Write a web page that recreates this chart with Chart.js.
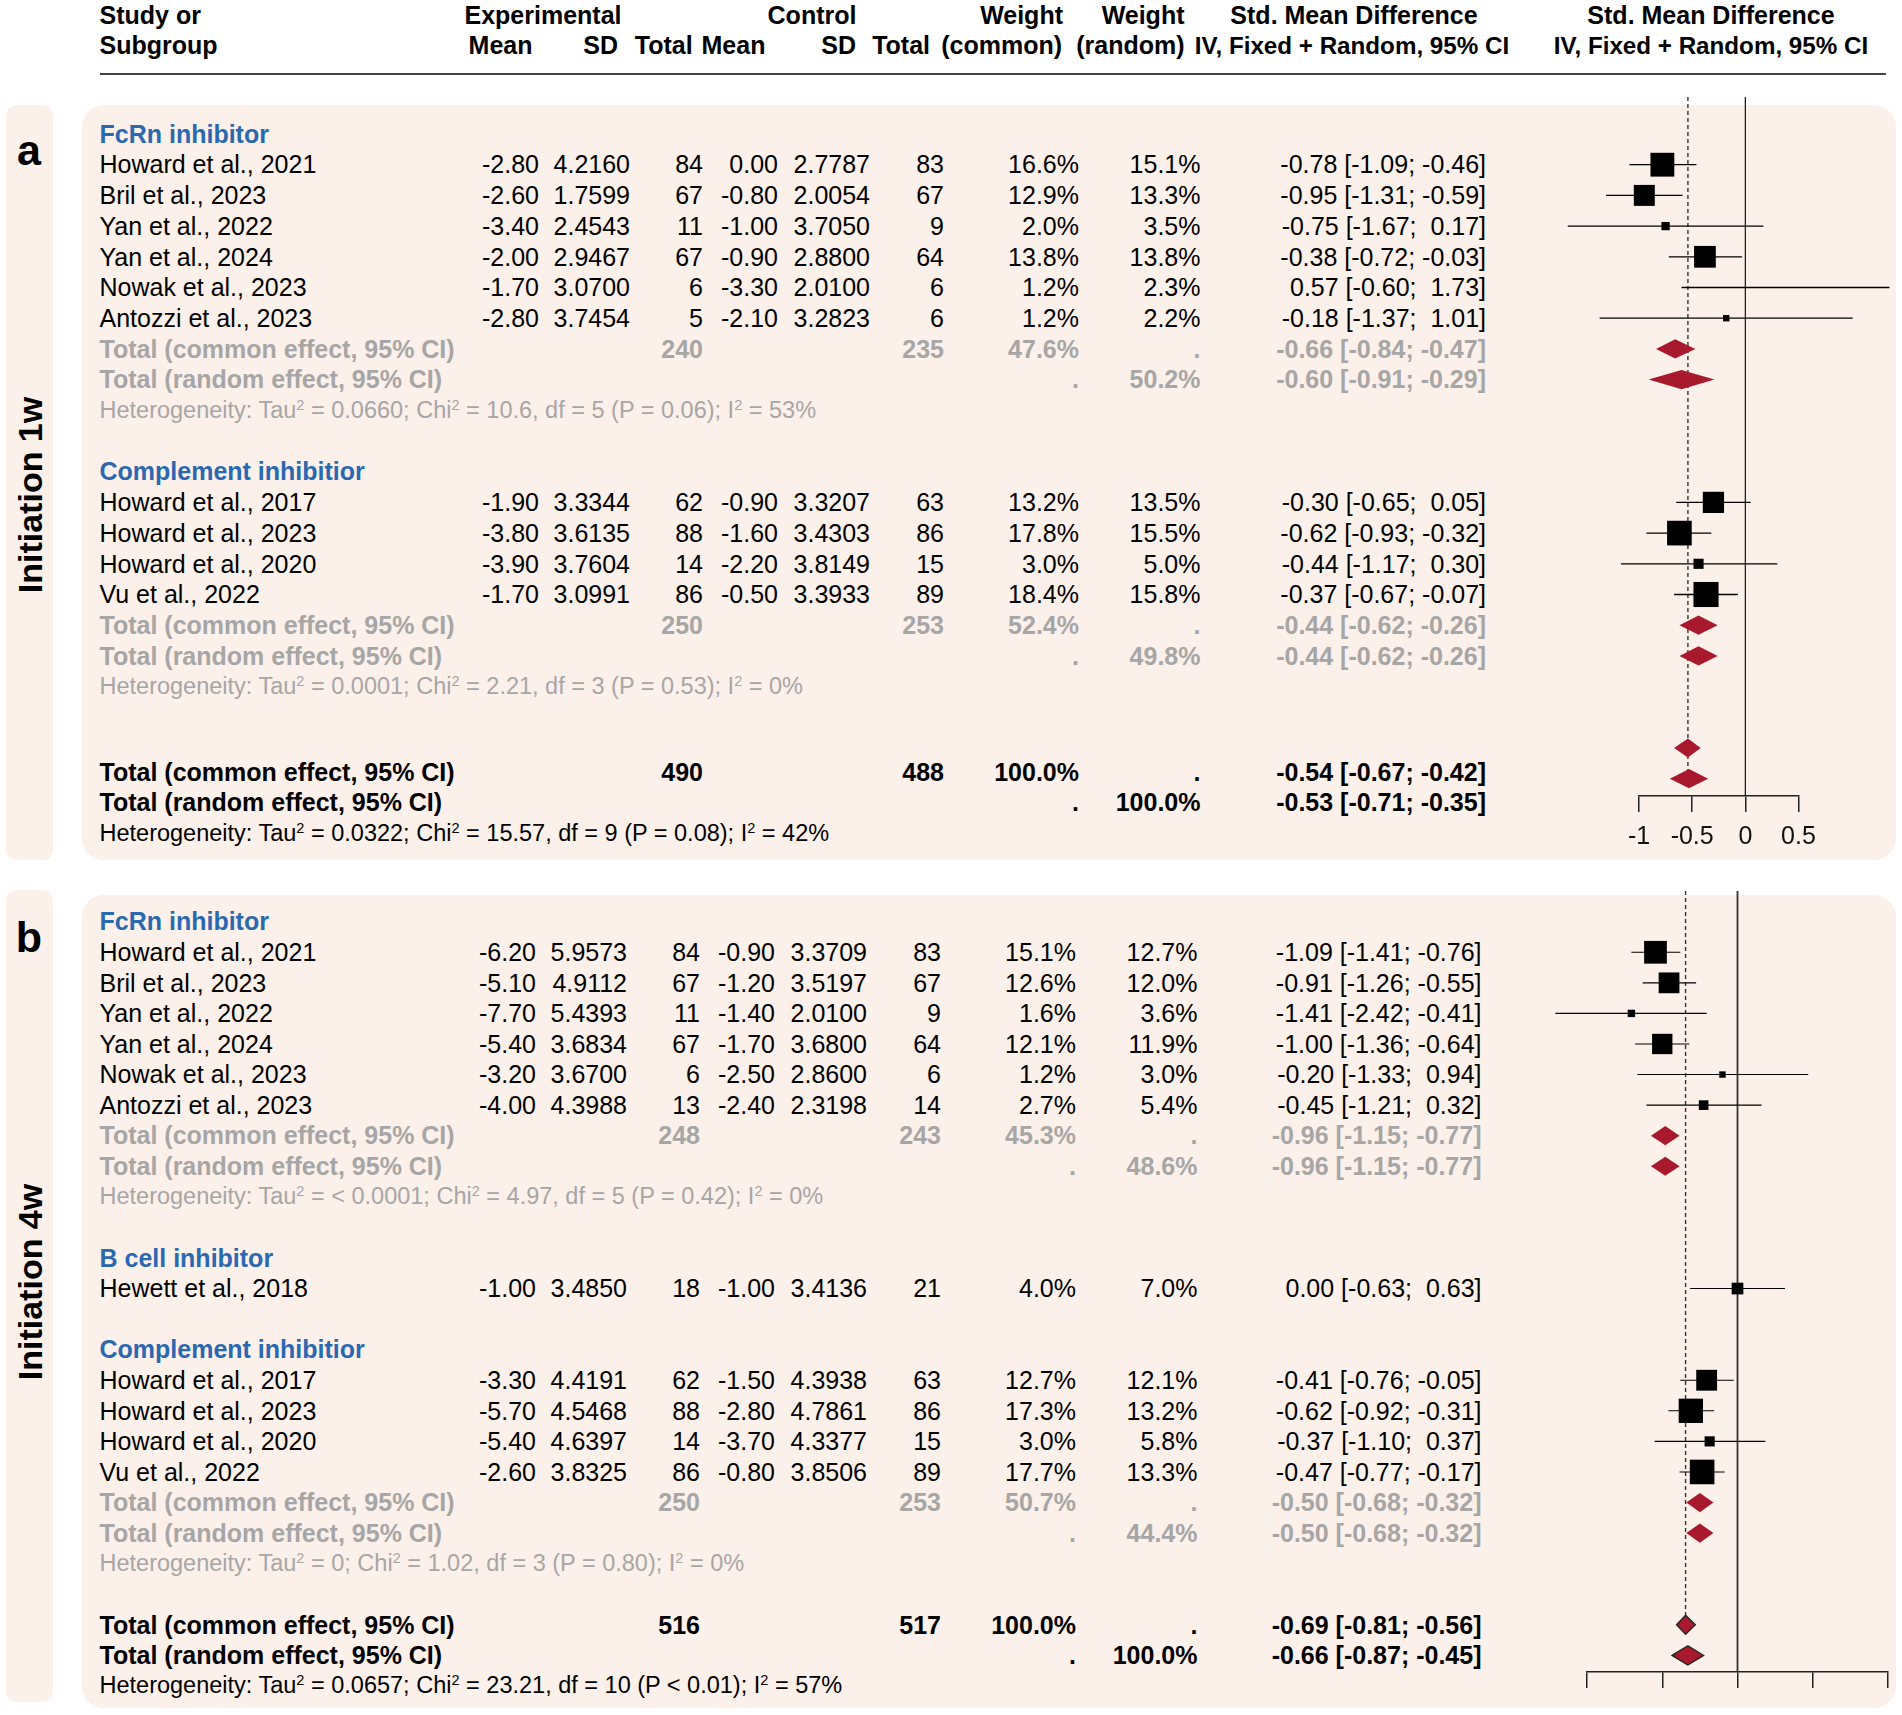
<!DOCTYPE html>
<html>
<head>
<meta charset="utf-8">
<title>Forest plot</title>
<script src="https://cdn.jsdelivr.net/npm/chart.js@4.4.1/dist/chart.umd.min.js"></script>
<style>
  html, body { margin: 0; padding: 0; background: #fff; }
  #page { position: relative; width: 1902px; height: 1715px; overflow: hidden;
          font-family: "Liberation Sans", Arial, Helvetica, sans-serif; color: #000; }
  .t { position: absolute; white-space: pre; }
  .sup { font-size: 0.62em; position: relative; top: -0.55em; }
  .box { position: absolute; background: #fcf0ea; }
  canvas { position: absolute; }
</style>
</head>
<body>
<div id="page"></div>
<script>
// ---- panel a: initiation 1w ----
const aGroups = ['FcRn inhibitor', 'Complement inhibitior'];
const aStudies = ['Howard et al., 2021', 'Bril et al., 2023', 'Yan et al., 2022', 'Yan et al., 2024', 'Nowak et al., 2023', 'Antozzi et al., 2023',
  'Howard et al., 2017', 'Howard et al., 2023', 'Howard et al., 2020', 'Vu et al., 2022'];
const aGroupOf = [0, 0, 0, 0, 0, 0, 1, 1, 1, 1];
const aExpMean = [-2.80, -2.60, -3.40, -2.00, -1.70, -2.80, -1.90, -3.80, -3.90, -1.70];
const aExpSD = [4.2160, 1.7599, 2.4543, 2.9467, 3.0700, 3.7454, 3.3344, 3.6135, 3.7604, 3.0991];
const aExpN = [84, 67, 11, 67, 6, 5, 62, 88, 14, 86];
const aCtlMean = [0.00, -0.80, -1.00, -0.90, -3.30, -2.10, -0.90, -1.60, -2.20, -0.50];
const aCtlSD = [2.7787, 2.0054, 3.7050, 2.8800, 2.0100, 3.2823, 3.3207, 3.4303, 3.8149, 3.3933];
const aCtlN = [83, 67, 9, 64, 6, 6, 63, 86, 15, 89];
const aWCommon = [16.6, 12.9, 2.0, 13.8, 1.2, 1.2, 13.2, 17.8, 3.0, 18.4];
const aWRandom = [15.1, 13.3, 3.5, 13.8, 2.3, 2.2, 13.5, 15.5, 5.0, 15.8];
const aSMD = [-0.78, -0.95, -0.75, -0.38, 0.57, -0.18, -0.30, -0.62, -0.44, -0.37];
const aLow = [-1.09, -1.31, -1.67, -0.72, -0.60, -1.37, -0.65, -0.93, -1.17, -0.67];
const aHigh = [-0.46, -0.59, 0.17, -0.03, 1.73, 1.01, 0.05, -0.32, 0.30, -0.07];
const aSubN = [[240, 235], [250, 253]];
const aSubW = [[47.6, 50.2], [52.4, 49.8]];
const aSubCommon = [[-0.66, -0.84, -0.47], [-0.44, -0.62, -0.26]];
const aSubRandom = [[-0.60, -0.91, -0.29], [-0.44, -0.62, -0.26]];
const aSubHet = [['0.0660', '10.6', 5, '= 0.06', 53], ['0.0001', '2.21', 3, '= 0.53', 0]];
const aTotN = [490, 488];
const aTotCommon = [-0.54, -0.67, -0.42];
const aTotRandom = [-0.53, -0.71, -0.35];
const aTotHet = ['0.0322', '15.57', 9, '= 0.08', 42];
const aTicks = [-1, -0.5, 0, 0.5];

// ---- panel b: initiation 4w ----
const bGroups = ['FcRn inhibitor', 'B cell inhibitor', 'Complement inhibitior'];
const bStudies = ['Howard et al., 2021', 'Bril et al., 2023', 'Yan et al., 2022', 'Yan et al., 2024', 'Nowak et al., 2023', 'Antozzi et al., 2023',
  'Hewett et al., 2018', 'Howard et al., 2017', 'Howard et al., 2023', 'Howard et al., 2020', 'Vu et al., 2022'];
const bGroupOf = [0, 0, 0, 0, 0, 0, 1, 2, 2, 2, 2];
const bExpMean = [-6.20, -5.10, -7.70, -5.40, -3.20, -4.00, -1.00, -3.30, -5.70, -5.40, -2.60];
const bExpSD = [5.9573, 4.9112, 5.4393, 3.6834, 3.6700, 4.3988, 3.4850, 4.4191, 4.5468, 4.6397, 3.8325];
const bExpN = [84, 67, 11, 67, 6, 13, 18, 62, 88, 14, 86];
const bCtlMean = [-0.90, -1.20, -1.40, -1.70, -2.50, -2.40, -1.00, -1.50, -2.80, -3.70, -0.80];
const bCtlSD = [3.3709, 3.5197, 2.0100, 3.6800, 2.8600, 2.3198, 3.4136, 4.3938, 4.7861, 4.3377, 3.8506];
const bCtlN = [83, 67, 9, 64, 6, 14, 21, 63, 86, 15, 89];
const bWCommon = [15.1, 12.6, 1.6, 12.1, 1.2, 2.7, 4.0, 12.7, 17.3, 3.0, 17.7];
const bWRandom = [12.7, 12.0, 3.6, 11.9, 3.0, 5.4, 7.0, 12.1, 13.2, 5.8, 13.3];
const bSMD = [-1.09, -0.91, -1.41, -1.00, -0.20, -0.45, 0.00, -0.41, -0.62, -0.37, -0.47];
const bLow = [-1.41, -1.26, -2.42, -1.36, -1.33, -1.21, -0.63, -0.76, -0.92, -1.10, -0.77];
const bHigh = [-0.76, -0.55, -0.41, -0.64, 0.94, 0.32, 0.63, -0.05, -0.31, 0.37, -0.17];
const bSubN = [[248, 243], null, [250, 253]];
const bSubW = [[45.3, 48.6], null, [50.7, 44.4]];
const bSubCommon = [[-0.96, -1.15, -0.77], null, [-0.50, -0.68, -0.32]];
const bSubRandom = [[-0.96, -1.15, -0.77], null, [-0.50, -0.68, -0.32]];
const bSubHet = [['< 0.0001', '4.97', 5, '= 0.42', 0], null, ['0', '1.02', 3, '= 0.80', 0]];
const bTotN = [516, 517];
const bTotCommon = [-0.69, -0.81, -0.56];
const bTotRandom = [-0.66, -0.87, -0.45];
const bTotHet = ['0.0657', '23.21', 10, '< 0.01', 57];
const bTicks = [-2, -1, 0, 1, 2];


const page = document.getElementById('page');
const FONT = '"Liberation Sans", Arial, Helvetica, sans-serif';
const BLUE = '#2a69b0';
const GREY = '#a6a6a6';
const RED = '#a8192e';
const K = 5.85;        // square side per sqrt(weight %)
const DIAMOND_H = 9.6;

const COL = { name: 99.5, expMean: 539, expSD: 630, expN: 703, ctlMean: 778, ctlSD: 870, ctlN: 944, wC: 1079, wR: 1200.5, smd: 1486 };

function box(x, y, w, h, r) {
  const d = document.createElement('div');
  d.className = 'box';
  Object.assign(d.style, { left: x + 'px', top: y + 'px', width: w + 'px', height: h + 'px', borderRadius: r + 'px' });
  page.appendChild(d);
}

function text(str, x, y, o = {}) {
  const size = o.size || 25;
  const d = document.createElement('div');
  d.className = 't';
  d.style.fontSize = size + 'px';
  d.style.lineHeight = size + 'px';
  d.style.fontWeight = o.bold ? 'bold' : 'normal';
  d.style.color = o.color || '#000';
  const base = o.baseline ? y : y + 0.358 * size;
  d.style.top = (base - 0.8465 * size) + 'px';
  if (o.align === 'right') {
    d.style.left = (x - 800) + 'px'; d.style.width = '800px'; d.style.textAlign = 'right';
  } else if (o.align === 'center') {
    d.style.left = (x - 400) + 'px'; d.style.width = '800px'; d.style.textAlign = 'center';
  } else {
    d.style.left = x + 'px';
  }
  if (o.html) d.innerHTML = str; else d.textContent = str;
  page.appendChild(d);
  return d;
}

function vtext(str, cx, cy, size) {
  const d = text(str, 0, 0, { size: size, bold: true });
  d.style.left = cx + 'px';
  d.style.top = cy + 'px';
  d.style.transform = 'translate(-50%, -50%) rotate(-90deg)';
}

const f2 = v => v.toFixed(2);
function ciText(e) {
  return f2(e[0]) + ' [' + f2(e[1]) + '; ' + (e[2] < 0 ? '' : ' ') + f2(e[2]) + ']';
}
const sup2 = '<span class="sup">2</span>';
function hetText(h) {
  return 'Heterogeneity: Tau' + sup2 + ' = ' + h[0] + '; Chi' + sup2 + ' = ' + h[1] + ', df = ' + h[2] +
    ' (P ' + h[3] + '); I' + sup2 + ' = ' + h[4] + '%';
}

// header
const H1 = 24, H2 = 54;
const HB = { bold: true, baseline: true };
const HR = { bold: true, baseline: true, align: 'right' };
const HC = { bold: true, baseline: true, align: 'center' };
const HCs = { bold: true, baseline: true, align: 'center', size: 24.2 };
text('Study or', 99.5, H1, HB);
text('Subgroup', 99.5, H2, HB);
text('Experimental', 543, H1, HC);
text('Mean', 532.5, H2, HR);
text('SD', 618, H2, HR);
text('Total', 692.6, H2, HR);
text('Control', 812, H1, HC);
text('Mean', 765.4, H2, HR);
text('SD', 856, H2, HR);
text('Total', 930, H2, HR);
text('Weight', 1063, H1, HR);
text('(common)', 1062, H2, HR);
text('Weight', 1184.5, H1, HR);
text('(random)', 1184.5, H2, HR);
text('Std. Mean Difference', 1354, H1, HC);
text('IV, Fixed + Random, 95% CI', 1352, H2, HCs);
text('Std. Mean Difference', 1711, H1, HC);
text('IV, Fixed + Random, 95% CI', 1711, H2, HCs);
const rule = document.createElement('div');
Object.assign(rule.style, { position: 'absolute', left: '99.5px', top: '73px', width: '1786px', height: '2px', background: '#444' });
page.appendChild(rule);

// panel backgrounds
box(6, 105, 46.7, 755, 10);
box(82, 105, 1814, 755, 22);
box(6, 890, 46.7, 812, 10);
box(82, 895, 1814, 813, 22);
text('a', 29, 165, { size: 43, bold: true, baseline: true, align: 'center' });
text('b', 29, 952, { size: 43, bold: true, baseline: true, align: 'center' });
vtext('Initiation 1w', 30, 495, 34);
vtext('Initiation 4w', 30, 1282, 34);

function makeChart(P, squares, cis, diamonds, rTot) {
  const cv = document.createElement('canvas');
  cv.width = P.canvas.width;
  cv.height = P.canvas.height;
  cv.style.left = P.canvas.left + 'px';
  cv.style.top = P.canvas.top + 'px';
  page.appendChild(cv);
  const rowAt = px => (px - P.y0) / P.step;

  const datasets = [{
    data: squares.map(s => ({ x: s.x, y: s.y })),
    showLine: false,
    pointStyle: 'rect',
    pointRadius: squares.map(s => K * Math.sqrt(s.w) * Math.SQRT1_2),
    pointBackgroundColor: '#000',
    pointBorderWidth: 0,
    clip: false
  }];
  cis.forEach(c => datasets.push({
    data: [{ x: c.lo, y: c.y }, { x: c.hi, y: c.y }],
    showLine: true,
    borderColor: '#000',
    borderWidth: P.ciWidth,
    pointRadius: 0,
    clip: P.clip
  }));

  const forest = {
    id: 'forest',
    beforeDatasetsDraw(chart) {
      const { ctx, chartArea: a, scales: { x, y } } = chart;
      ctx.save();
      const x0 = x.getPixelForValue(0);
      ctx.strokeStyle = P.zeroColor;
      ctx.lineWidth = P.zeroWidth;
      ctx.beginPath(); ctx.moveTo(x0, a.top); ctx.lineTo(x0, a.bottom); ctx.stroke();
      const xd = x.getPixelForValue(P.totCommon[0]);
      ctx.strokeStyle = '#333';
      ctx.lineWidth = 1.4;
      ctx.setLineDash([4, 3]);
      ctx.beginPath(); ctx.moveTo(xd, a.top); ctx.lineTo(xd, y.getPixelForValue(rTot + P.dashExtra)); ctx.stroke();
      ctx.restore();
    },
    afterDatasetsDraw(chart) {
      const { ctx, scales: { x, y } } = chart;
      ctx.save();
      diamonds.forEach(d => {
        const yc = y.getPixelForValue(d.y);
        ctx.beginPath();
        ctx.moveTo(x.getPixelForValue(d.e[1]), yc);
        ctx.lineTo(x.getPixelForValue(d.e[0]), yc - DIAMOND_H);
        ctx.lineTo(x.getPixelForValue(d.e[2]), yc);
        ctx.lineTo(x.getPixelForValue(d.e[0]), yc + DIAMOND_H);
        ctx.closePath();
        ctx.fillStyle = RED;
        ctx.fill();
        if (d.border) { ctx.strokeStyle = '#222'; ctx.lineWidth = 1.3; ctx.stroke(); }
      });
      ctx.restore();
    }
  };

  new Chart(cv, {
    type: 'scatter',
    data: { datasets: datasets },
    plugins: [forest],
    options: {
      responsive: false,
      animation: false,
      devicePixelRatio: 1,
      events: [],
      layout: { padding: P.pad, autoPadding: false },
      plugins: { legend: { display: false }, tooltip: { enabled: false } },
      scales: {
        x: {
          type: 'linear',
          min: P.ticks[0],
          max: P.ticks[P.ticks.length - 1],
          afterBuildTicks: s => { s.ticks = P.ticks.map(v => ({ value: v })); },
          afterFit: s => { s.height = P.axisH; },
          grid: { drawOnChartArea: false, drawTicks: true, tickLength: 16, color: '#222', lineWidth: 1.5 },
          border: { display: true, color: '#222', width: 1.5 },
          ticks: {
            display: P.tickLabels, padding: 10, color: '#111', maxRotation: 0, autoSkip: false,
            font: { family: FONT, size: 25 },
            callback: v => String(v)
          }
        },
        y: { type: 'linear', reverse: true, min: rowAt(P.plotTop), max: rowAt(P.axisY), display: false }
      }
    }
  });
}

function buildPanel(P) {
  const yOf = r => P.y0 + P.step * r;
  const c = k => COL[k] + (k === 'smd' ? P.dxSmd : P.dx);
  const R = { align: 'right' };
  const G = { color: GREY, bold: true };
  const GR = { color: GREY, bold: true, align: 'right' };
  const squares = [], cis = [], diamonds = [];
  let r = 0;
  P.groups.forEach((g, gi) => {
    text(g, COL.name, yOf(r), { bold: true, color: BLUE });
    r++;
    P.studies.forEach((s, i) => {
      if (P.groupOf[i] !== gi) return;
      const y = yOf(r);
      text(s, COL.name, y);
      text(f2(P.expMean[i]), c('expMean'), y, R);
      text(P.expSD[i].toFixed(4), c('expSD'), y, R);
      text(String(P.expN[i]), c('expN'), y, R);
      text(f2(P.ctlMean[i]), c('ctlMean'), y, R);
      text(P.ctlSD[i].toFixed(4), c('ctlSD'), y, R);
      text(String(P.ctlN[i]), c('ctlN'), y, R);
      text(P.wCommon[i].toFixed(1) + '%', c('wC'), y, R);
      text(P.wRandom[i].toFixed(1) + '%', c('wR'), y, R);
      text(ciText([P.smd[i], P.low[i], P.high[i]]), c('smd'), y, R);
      squares.push({ x: P.smd[i], y: r, w: P.wCommon[i] });
      cis.push({ lo: P.low[i], hi: P.high[i], y: r });
      r++;
    });
    if (P.subN[gi]) {
      let y = yOf(r);
      text('Total (common effect, 95% CI)', COL.name, y, G);
      text(String(P.subN[gi][0]), c('expN'), y, GR);
      text(String(P.subN[gi][1]), c('ctlN'), y, GR);
      text(P.subW[gi][0].toFixed(1) + '%', c('wC'), y, GR);
      text('.', c('wR'), y, GR);
      text(ciText(P.subCommon[gi]), c('smd'), y, GR);
      diamonds.push({ e: P.subCommon[gi], y: r });
      r++;
      y = yOf(r);
      text('Total (random effect, 95% CI)', COL.name, y, G);
      text('.', c('wC'), y, GR);
      text(P.subW[gi][1].toFixed(1) + '%', c('wR'), y, GR);
      text(ciText(P.subRandom[gi]), c('smd'), y, GR);
      diamonds.push({ e: P.subRandom[gi], y: r });
      r++;
      text(hetText(P.subHet[gi]), COL.name, yOf(r), { size: 23.5, color: GREY, html: true });
      r++;
    }
    r++;
  });

  // overall
  const rTot = r;
  const B = { bold: true }, BR = { bold: true, align: 'right' };
  let y = yOf(r + P.totShift);
  text('Total (common effect, 95% CI)', COL.name, y, B);
  text(String(P.totN[0]), c('expN'), y, BR);
  text(String(P.totN[1]), c('ctlN'), y, BR);
  text('100.0%', c('wC'), y, BR);
  text('.', c('wR'), y, BR);
  text(ciText(P.totCommon), c('smd'), y, BR);
  y = yOf(r + 1 + P.totShift);
  text('Total (random effect, 95% CI)', COL.name, y, B);
  text('.', c('wC'), y, BR);
  text('100.0%', c('wR'), y, BR);
  text(ciText(P.totRandom), c('smd'), y, BR);
  text(hetText(P.totHet), COL.name, yOf(r + 2 + P.totShift), { size: 23.5, html: true });
  diamonds.push({ e: P.totCommon, y: r, border: P.totBorder });
  diamonds.push({ e: P.totRandom, y: r + 1, border: P.totBorder });

  makeChart(P, squares, cis, diamonds, rTot);
}

buildPanel({
  groups: aGroups, studies: aStudies, groupOf: aGroupOf,
  expMean: aExpMean, expSD: aExpSD, expN: aExpN, ctlMean: aCtlMean, ctlSD: aCtlSD, ctlN: aCtlN,
  wCommon: aWCommon, wRandom: aWRandom, smd: aSMD, low: aLow, high: aHigh,
  subN: aSubN, subW: aSubW, subCommon: aSubCommon, subRandom: aSubRandom, subHet: aSubHet,
  totN: aTotN, totCommon: aTotCommon, totRandom: aTotRandom, totHet: aTotHet, ticks: aTicks,
  y0: 134, step: 30.7, totShift: 0.78, dx: 0, dxSmd: 0, totBorder: false, dashExtra: 1,
  canvas: { left: 1550, top: 90, width: 352, height: 770 },
  pad: { left: 89, right: 103.5, top: 7, bottom: 0 },
  plotTop: 97, axisY: 796, axisH: 64, tickLabels: true,
  clip: { left: 89, right: 91, top: 20, bottom: 20 },
  zeroColor: '#111', zeroWidth: 1.2, ciWidth: 1.3
});

buildPanel({
  groups: bGroups, studies: bStudies, groupOf: bGroupOf,
  expMean: bExpMean, expSD: bExpSD, expN: bExpN, ctlMean: bCtlMean, ctlSD: bCtlSD, ctlN: bCtlN,
  wCommon: bWCommon, wRandom: bWRandom, smd: bSMD, low: bLow, high: bHigh,
  subN: bSubN, subW: bSubW, subCommon: bSubCommon, subRandom: bSubRandom, subHet: bSubHet,
  totN: bTotN, totCommon: bTotCommon, totRandom: bTotRandom, totHet: bTotHet, ticks: bTicks,
  y0: 921.7, step: 30.57, totShift: 0, dx: -3, dxSmd: -4.5, totBorder: true, dashExtra: 0,
  canvas: { left: 1540, top: 885, width: 362, height: 810 },
  pad: { left: 47, right: 14, top: 6, bottom: 0 },
  plotTop: 891, axisY: 1672, axisH: 23, tickLabels: false,
  clip: false,
  zeroColor: '#333', zeroWidth: 1.8, ciWidth: 1.1
});
</script>
</body>
</html>
